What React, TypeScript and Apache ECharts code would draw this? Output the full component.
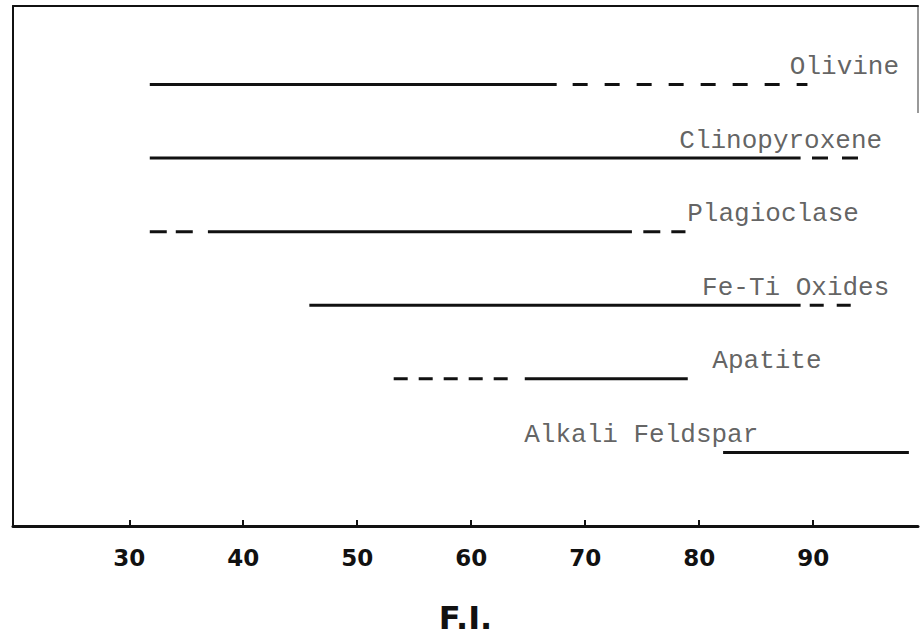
import React, { useEffect, useRef } from "react";
import * as echarts from "echarts";

// Mineral phases, top to bottom, and the row level each is drawn on
const minerals = ["Olivine", "Clinopyroxene", "Plagioclase", "Fe-Ti Oxides", "Apatite", "Alkali Feldspar"];
const rowLevel = [6, 5, 4, 3, 2, 1];

// F.I. ranges where each phase is present (solid) and sporadic (dashed)
const solidRanges: [number, number][][] = [
  [[31.8, 67.5]],
  [[31.8, 88.9]],
  [[36.9, 74.1]],
  [[45.8, 88.9]],
  [[64.7, 79.0]],
  [[82.1, 98.4]],
];
const dashedRanges: [number, number][][] = [
  [[68.9, 89.5]],
  [[89.9, 94.0]],
  [[31.8, 35.8], [75.1, 78.8]],
  [[89.7, 93.7]],
  [[53.2, 63.2]],
  [],
];

// F.I. value where each phase name starts
const labelX = [88.0, 78.3, 79.0, 80.3, 81.2, 64.7];

// Axis ticks
const fiTicks = [30, 40, 50, 60, 70, 80, 90];
const fiMin = 19.8;
const fiMax = 99.2;

// dash patterns for the dashed stretches (style only)
const dashStyles: number[][][] = [
  [[15, 17]],
  [[16, 14]],
  [[17, 9], [17, 11]],
  [[14, 13]],
  [[14, 11]],
  [],
];

const INK = "#111";

export default function App() {
  const ref = useRef<HTMLDivElement>(null);

  useEffect(() => {
    if (!ref.current) return;
    const chart = echarts.init(ref.current, undefined, { renderer: "svg" });

    const series: any[] = [];
    minerals.forEach((name, i) => {
      const y = rowLevel[i];
      solidRanges[i].forEach(([a, b], j) => {
        series.push({
          type: "line",
          name: `${name} solid ${j}`,
          data: [[a, y], [b, y]],
          symbol: "none",
          silent: true,
          lineStyle: { color: INK, width: 3, type: "solid" },
        });
      });
      dashedRanges[i].forEach(([a, b], j) => {
        series.push({
          type: "line",
          name: `${name} dashed ${j}`,
          data: [[a, y], [b, y]],
          symbol: "none",
          silent: true,
          lineStyle: { color: INK, width: 3, type: dashStyles[i][j] },
        });
      });
    });

    series.push({
      type: "scatter",
      name: "labels",
      silent: true,
      symbolSize: 1,
      itemStyle: { color: "rgba(0,0,0,0)" },
      data: minerals.map((m, i) => ({ value: [labelX[i], rowLevel[i]], name: m })),
      label: {
        show: true,
        position: [0, 0],
        offset: [0, -17],
        align: "left",
        verticalAlign: "middle",
        formatter: (p: any) => p.name,
        fontFamily: "'Courier New', 'Liberation Mono', monospace",
        fontSize: 26,
        color: "#3a3a3a",
      },
    });

    chart.setOption({
      animation: false,
      backgroundColor: "#fff",
      grid: { left: 13, right: 2, top: 6, bottom: 103 },
      xAxis: [
        {
          type: "value",
          min: fiMin,
          max: fiMax,
          position: "bottom",
          name: "F.I.",
          nameLocation: "middle",
          nameGap: 76,
          nameTextStyle: {
            fontFamily: "'DejaVu Sans', sans-serif",
            fontWeight: "bold",
            fontSize: 32,
            color: INK,
          },
          axisLine: { show: true, onZero: false, lineStyle: { color: INK, width: 3 } },
          axisTick: {
            show: true,
            inside: true,
            length: 6,
            customValues: fiTicks,
            lineStyle: { color: INK, width: 2 },
          },
          axisLabel: {
            show: true,
            customValues: fiTicks,
            margin: 20,
            fontFamily: "'DejaVu Sans', sans-serif",
            fontWeight: "bold",
            fontSize: 23,
            color: INK,
          },
          splitLine: { show: false },
        },
        {
          type: "value",
          min: fiMin,
          max: fiMax,
          position: "top",
          axisLine: { show: true, onZero: false, lineStyle: { color: INK, width: 2 } },
          axisTick: { show: false },
          axisLabel: { show: false },
          splitLine: { show: false },
        },
      ],
      yAxis: {
        type: "value",
        min: 0,
        max: 7.067,
        axisLine: { show: true, onZero: false, lineStyle: { color: INK, width: 2 } },
        axisTick: { show: false },
        axisLabel: { show: false },
        splitLine: { show: false },
      },
      graphic: [
        {
          type: "line",
          shape: { x1: 918, y1: 6, x2: 918, y2: 113 },
          style: { stroke: "#555", lineWidth: 1.2 },
          silent: true,
        },
      ],
      series,
    });

    return () => chart.dispose();
  }, []);

  return (
    <div
      ref={ref}
      style={{ position: "fixed", left: 0, top: 0, width: 920, height: 639, background: "#fff" }}
    />
  );
}
